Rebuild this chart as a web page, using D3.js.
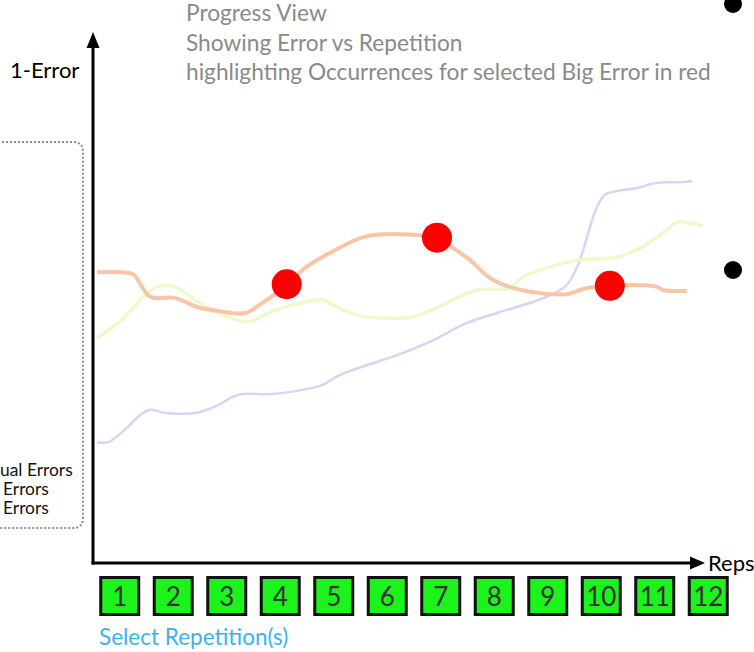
<!DOCTYPE html>
<html><head><meta charset="utf-8">
<script src="https://cdn.jsdelivr.net/npm/d3@7"></script>
<style>html,body{margin:0;padding:0;background:#fff;overflow:hidden}</style>
</head><body>
<script>
// ---- data ----
const titleLines = ["Progress View", "Showing Error vs Repetition", "highlighting Occurrences for selected Big Error in red"];
const repetitions = [1,2,3,4,5,6,7,8,9,10,11,12];
const legendFragments = ["ual Errors", "Errors", "Errors"];
// [rep, 1-Error (%)]
const orangeSeries = [[0.575,55.6],[1.05,55.6],[1.25,55.2],[1.57,50.9],[2.03,50.7],[2.46,48.9],[2.84,48.2],[3.34,47.8],[3.66,49.7],[4.13,53.2],[4.46,56.4],[4.93,59.3],[5.62,62.5],[6.56,62.7],[6.93,62.0],[7.23,60.2],[7.55,57.9],[7.92,54.5],[8.29,52.8],[8.86,51.6],[9.36,51.4],[9.66,52.4],[10.14,53.0],[11.04,52.8],[11.15,52.2],[11.60,52.0]];
const yellowSeries = [[0.575,43.0],[1.04,46.5],[1.47,51.2],[1.71,52.8],[2.03,52.8],[2.41,50.3],[2.84,47.8],[3.40,46.1],[3.77,47.8],[4.22,49.3],[4.80,50.3],[4.99,49.3],[5.43,47.4],[6.05,46.8],[6.43,47.0],[6.93,48.8],[7.30,50.7],[7.68,52.2],[8.29,52.6],[8.54,54.7],[9.17,57.0],[9.55,57.9],[10.29,58.5],[10.72,60.2],[11.15,63.1],[11.43,65.2],[11.66,65.0],[11.90,64.4]];
const purpleSeries = [[0.575,23.1],[0.78,23.1],[1.15,26.0],[1.38,28.3],[1.57,29.3],[1.85,28.7],[2.41,28.7],[2.84,30.2],[3.10,31.7],[3.29,32.3],[3.85,32.3],[4.41,33.1],[4.78,34.0],[5.08,35.8],[5.64,37.9],[6.09,39.4],[6.52,41.1],[6.86,42.6],[7.49,45.9],[8.11,48.0],[8.72,49.9],[9.17,51.8],[9.36,53.2],[9.55,56.6],[9.66,59.8],[9.79,64.2],[9.92,68.1],[10.07,70.4],[10.29,71.1],[10.67,71.7],[11.04,72.7],[11.42,72.8],[11.70,73.0]];
const bigErrorOccurrences = [[4.12,53.3],[6.93,62.2],[10.16,53.0]];

// ---- layout ----
const W = 754, H = 652;
const font = "Lato, 'Open Sans', sans-serif";
const svg = d3.select("body").append("svg").attr("width", W).attr("height", H);

const x = d3.scaleLinear().domain([0.5, 12.5]).range([93, 735]);
const y = d3.scaleLinear().domain([0, 100]).range([563, 40]);

// title
svg.append("g").selectAll("text").data(titleLines).join("text")
  .attr("x", 186).attr("y", (d,i) => 21 + i*29.5)
  .attr("font-family", font).attr("font-size", 22.7).attr("fill", "#8a8a8a")
  .text(d => d);

// bullets on the right
svg.append("circle").attr("cx", 733).attr("cy", 4).attr("r", 9).attr("fill", "#000");
svg.append("circle").attr("cx", 733).attr("cy", 270).attr("r", 9).attr("fill", "#000");

// dotted legend box (clipped at left)
const bx0 = -6, bx1 = 83, by0 = 142, by1 = 528, rr = 10;
svg.append("path")
  .attr("d", `M${bx0},${by0} H${bx1-rr} Q${bx1},${by0} ${bx1},${by0+rr} V${by1-rr} Q${bx1},${by1} ${bx1-rr},${by1} H${bx0}`)
  .attr("fill", "none").attr("stroke", "#8c8c8c").attr("stroke-width", 2).attr("stroke-dasharray", "2,2");
svg.append("g").selectAll("text").data(legendFragments).join("text")
  .attr("x", (d,i) => i === 0 ? 0 : 3).attr("y", (d,i) => 476 + i*19)
  .attr("font-family", font).attr("font-size", 17.4).attr("fill", "#111")
  .text(d => d);

// series lines
const line = d3.line().x(d => x(d[0])).y(d => y(d[1])).curve(d3.curveCatmullRom.alpha(0.5));
svg.append("path").datum(purpleSeries).attr("d", line)
  .attr("fill", "none").attr("stroke", "#dcd2f6").attr("stroke-width", 2.5);
svg.append("path").datum(yellowSeries).attr("d", line)
  .attr("fill", "none").attr("stroke", "#eff9cb").attr("stroke-width", 3.5);
svg.append("path").datum(orangeSeries).attr("d", line)
  .attr("fill", "none").attr("stroke", "#f8c6a6").attr("stroke-width", 4);

// highlighted occurrences
svg.append("g").selectAll("circle").data(bigErrorOccurrences).join("circle")
  .attr("cx", d => x(d[0])).attr("cy", d => y(d[1])).attr("r", 15).attr("fill", "#ff0000");

// axes
const ax = x(0.5), ay = y(0);
svg.append("line").attr("x1", ax).attr("y1", ay + 1.5).attr("x2", ax).attr("y2", 46)
  .attr("stroke", "#000").attr("stroke-width", 3);
svg.append("path").attr("d", `M${ax},32 L${ax+6.5},48 L${ax-6.5},48 Z`).attr("fill", "#000");
svg.append("line").attr("x1", ax - 1.5).attr("y1", ay).attr("x2", 692).attr("y2", ay)
  .attr("stroke", "#000").attr("stroke-width", 3);
svg.append("path").attr("d", `M705,${ay} L690,${ay-6.5} L690,${ay+6.5} Z`).attr("fill", "#000");

svg.append("text").attr("x", 10).attr("y", 78).attr("font-family", font).attr("font-size", 22)
  .attr("fill", "#000").text("1-Error");
svg.append("text").attr("x", 708).attr("y", 571).attr("font-family", font).attr("font-size", 22)
  .attr("fill", "#000").text("Reps");

// repetition boxes
const boxes = svg.append("g").selectAll("g").data(repetitions).join("g")
  .attr("transform", d => `translate(${x(d)},596)`);
boxes.append("rect").attr("x", -19).attr("y", -18.5).attr("width", 38).attr("height", 37)
  .attr("fill", "#1cf21c").attr("stroke", "#111").attr("stroke-width", 3);
boxes.append("text").attr("text-anchor", "middle").attr("y", 9.5)
  .attr("font-family", font).attr("font-size", 26).attr("fill", "#333")
  .text(d => d);

svg.append("text").attr("x", 99).attr("y", 645).attr("font-family", font).attr("font-size", 22.5)
  .attr("fill", "#3bb3ea").text("Select Repetition(s)");
</script>
</body></html>
